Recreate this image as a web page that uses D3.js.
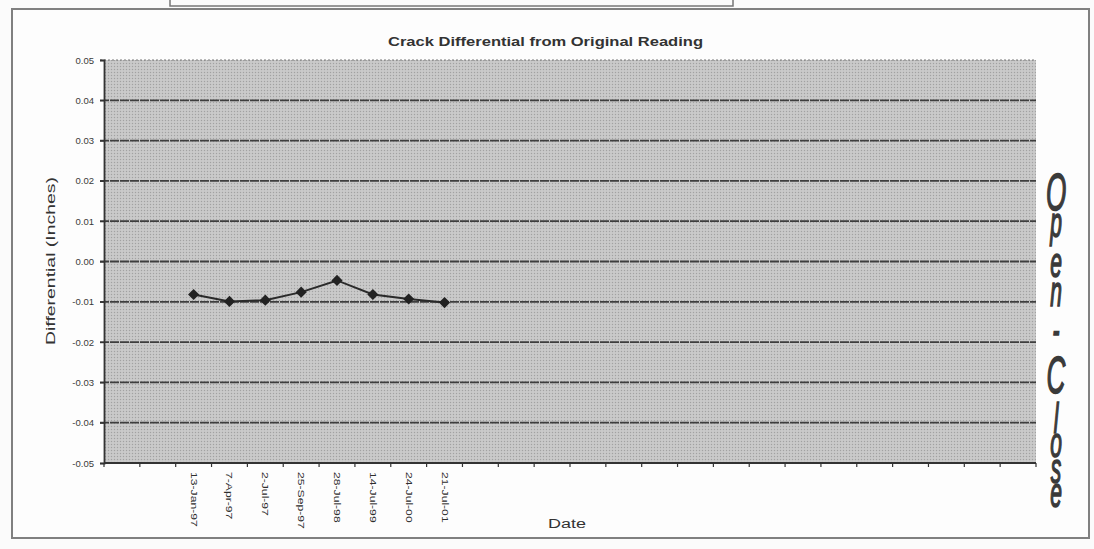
<!DOCTYPE html>
<html>
<head>
<meta charset="utf-8">
<script src="https://cdn.jsdelivr.net/npm/d3@7"></script>
<style>
  body { margin: 0; background: #fbfbfb; }
  svg { display: block; font-family: "Liberation Sans", Arial, sans-serif; }
</style>
</head>
<body>
<div id="chart"></div>
<script>
// 26 category slots on the axis, only 8 carry readings
const categories = ["", "",
  "13-Jan-97", "7-Apr-97", "2-Jul-97", "25-Sep-97", "28-Jul-98", "14-Jul-99", "24-Jul-00", "21-Jul-01",
  "", "", "", "", "", "", "", "", "", "", "", "", "", "", "", ""];
const differential = [null, null,
  -0.0082, -0.0099, -0.0096, -0.0076, -0.0047, -0.0082, -0.0093, -0.0102,
  null, null, null, null, null, null, null, null, null, null, null, null, null, null, null, null];
const yTicks = [0.05, 0.04, 0.03, 0.02, 0.01, 0.00, -0.01, -0.02, -0.03, -0.04, -0.05];
const sideLetters = ["O", "p", "e", "n", "-", "C", "l", "o", "s", "e"];

const width = 1094, height = 549;
const plot = { left: 104, right: 1036, top: 60, bottom: 463 };

const svg = d3.select("#chart").append("svg")
  .attr("width", width)
  .attr("height", height);

// stippled grey fill like the scan
const defs = svg.append("defs");
const pat = defs.append("pattern")
  .attr("id", "stipple")
  .attr("width", 3).attr("height", 3)
  .attr("patternUnits", "userSpaceOnUse");
pat.append("rect").attr("width", 3).attr("height", 3).attr("fill", "#c5c5c5");
pat.append("rect").attr("x", 0).attr("y", 0).attr("width", 1).attr("height", 1).attr("fill", "#a2a2a2");
pat.append("rect").attr("x", 1.5).attr("y", 1.5).attr("width", 1).attr("height", 1).attr("fill", "#dadada");

// bit of the box cut off at the top of the page
svg.append("rect")
  .attr("x", 170).attr("y", -6).attr("width", 563).attr("height", 12)
  .attr("fill", "none").attr("stroke", "#777").attr("stroke-width", 1.5);

// chart frame
svg.append("rect")
  .attr("x", 12).attr("y", 9).attr("width", 1077).attr("height", 529)
  .attr("fill", "#fdfdfd").attr("stroke", "#808080").attr("stroke-width", 2);

var x = d3.scaleBand()
  .domain(d3.range(categories.length))
  .range([plot.left, plot.right]);

var y = d3.scaleLinear()
  .domain([-0.05, 0.05])
  .range([plot.bottom, plot.top]);

svg.append("rect")
  .attr("x", plot.left).attr("y", plot.top)
  .attr("width", plot.right - plot.left).attr("height", plot.bottom - plot.top)
  .attr("fill", "url(#stipple)");

// gridlines
svg.append("g")
  .selectAll("line")
  .data(yTicks.filter(d => d > -0.05))
  .join("line")
  .attr("x1", plot.left - 4).attr("x2", plot.right)
  .attr("y1", d => y(d)).attr("y2", d => y(d))
  .attr("stroke", d => d === 0.05 ? "#7a7a7a" : "#3e3e3e")
  .attr("stroke-width", d => d === 0.05 ? 1.2 : 1.8)
  .attr("stroke-dasharray", d => d === 0.05 ? "2 2" : "9 1");

// y axis
const yAxis = svg.append("g")
  .attr("transform", `translate(${plot.left},0)`)
  .call(d3.axisLeft(y).tickValues(yTicks).tickSize(4).tickPadding(6)
    .tickFormat(d => d.toFixed(2)));
yAxis.select(".domain").attr("stroke", "#333").attr("stroke-width", 1.8);
yAxis.selectAll(".tick line").attr("stroke", "#333").attr("stroke-width", 1.2);
yAxis.selectAll("text")
  .attr("fill", "#3a3a3a")
  .style("font-size", "9.5px");

// x axis line with ticks between categories
const xAxis = svg.append("g");
xAxis.append("line")
  .attr("x1", plot.left).attr("x2", plot.right)
  .attr("y1", y(-0.05)).attr("y2", y(-0.05))
  .attr("stroke", "#333").attr("stroke-width", 1.9);
xAxis.selectAll("line.tk")
  .data(d3.range(categories.length + 1))
  .join("line")
  .attr("class", "tk")
  .attr("x1", i => i < categories.length ? x(i) : plot.right)
  .attr("x2", i => i < categories.length ? x(i) : plot.right)
  .attr("y1", y(-0.05)).attr("y2", y(-0.05) + 4)
  .attr("stroke", "#333").attr("stroke-width", 1.2);

// rotated date labels
xAxis.selectAll("text")
  .data(categories.map((c, i) => ({ c, i })).filter(d => d.c !== ""))
  .join("text")
  .attr("transform", d => `translate(${x(d.i) + x.bandwidth() / 2 - 3},${y(-0.05) + 9}) rotate(90) scale(1.35,1)`)
  .attr("text-anchor", "start")
  .attr("fill", "#2e2e2e")
  .style("font-size", "9px")
  .text(d => d.c);

// series
const points = differential.map((v, i) => ({ v, i })).filter(d => d.v !== null);

svg.append("path")
  .datum(points)
  .attr("fill", "none")
  .attr("stroke", "#2a2a2a")
  .attr("stroke-width", 2)
  .attr("d", d3.line()
    .x(d => x(d.i) + x.bandwidth() / 2)
    .y(d => y(d.v)));

svg.append("g")
  .selectAll("path")
  .data(points)
  .join("path")
  .attr("transform", d => `translate(${x(d.i) + x.bandwidth() / 2},${y(d.v)}) rotate(45)`)
  .attr("d", d3.symbol(d3.symbolSquare, 62))
  .attr("fill", "#222");

// titles
svg.append("text")
  .attr("x", 388).attr("y", 46)
  .attr("textLength", 315)
  .attr("lengthAdjust", "spacingAndGlyphs")
  .attr("fill", "#333")
  .style("font-size", "13px")
  .style("font-weight", "bold")
  .text("Crack Differential from Original Reading");

svg.append("text")
  .attr("transform", "translate(55,345) rotate(-90)")
  .attr("textLength", 168)
  .attr("lengthAdjust", "spacingAndGlyphs")
  .attr("fill", "#333")
  .style("font-size", "12px")
  .text("Differential (Inches)");

svg.append("text")
  .attr("x", 548).attr("y", 528)
  .attr("textLength", 38)
  .attr("lengthAdjust", "spacingAndGlyphs")
  .attr("fill", "#333")
  .style("font-size", "12px")
  .text("Date");

// hand-lettered "Open - Close" down the right side, one text with a tspan per letter
const sideBaselines = [210, 237, 277, 306, 345, 393, 433, 457, 483, 507];
svg.append("text")
  .attr("transform", "translate(1056,0) scale(0.5,1)")
  .attr("text-anchor", "middle")
  .attr("fill", "#3a3a3a")
  .attr("stroke", "#3a3a3a")
  .attr("stroke-width", 1.6)
  .style("font-style", "italic")
  .selectAll("tspan")
  .data(sideLetters)
  .join("tspan")
  .attr("x", 0)
  .attr("y", (d, i) => sideBaselines[i])
  .style("font-size", d => d === d.toLowerCase() ? "42px" : "52px")
  .text(d => d);
</script>
</body>
</html>
